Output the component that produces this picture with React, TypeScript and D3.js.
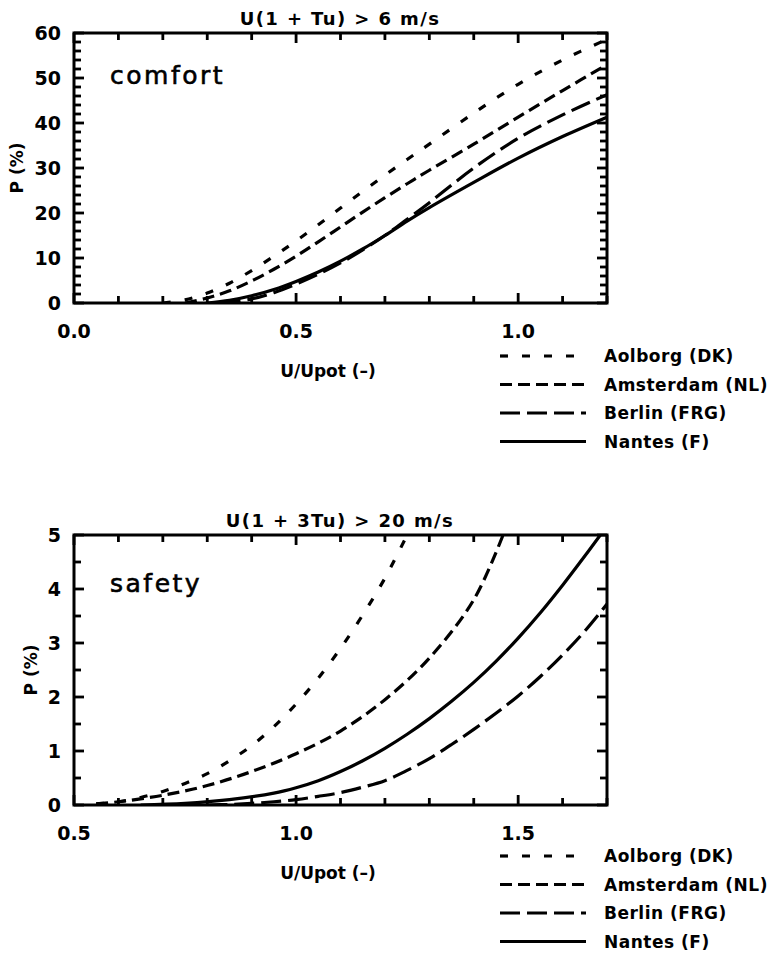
import React from "react";
import * as d3 from "d3";

const seriesNames = ["Aolborg (DK)", "Amsterdam (NL)", "Berlin (FRG)", "Nantes (F)"];
const seriesDash = ["8,14", "12,6", "20,7", "none"];

// comfort panel: U(1 + Tu) > 6 m/s
const comfortAolborg: [number, number][] = [[0.20,0],[0.25,0.7],[0.30,2.2],[0.35,4.4],[0.40,7.2],[0.45,10.4],[0.50,13.8],[0.55,17.4],[0.60,21.1],[0.65,24.8],[0.70,28.4],[0.75,31.9],[0.80,35.3],[0.90,42.2],[1.00,48.6],[1.10,54],[1.20,58.6]];
const comfortAmsterdam: [number, number][] = [[0.25,0],[0.30,1.1],[0.35,2.7],[0.40,4.9],[0.45,7.5],[0.50,10.4],[0.55,13.6],[0.60,16.9],[0.65,20.2],[0.70,23.4],[0.75,26.5],[0.80,29.5],[0.90,35.3],[1.00,41.3],[1.10,47.2],[1.20,53]];
const comfortBerlin: [number, number][] = [[0.33,0],[0.40,0.9],[0.45,2.3],[0.50,4.2],[0.55,6.4],[0.60,8.9],[0.65,11.8],[0.70,15],[0.75,18.6],[0.80,22.3],[0.90,30.0],[1.00,36.6],[1.10,41.8],[1.20,46.3]];
const comfortNantes: [number, number][] = [[0.30,0],[0.35,0.6],[0.40,1.6],[0.45,3.0],[0.50,4.8],[0.55,6.9],[0.60,9.3],[0.65,12],[0.70,15],[0.75,18.2],[0.80,21.2],[0.90,26.8],[1.00,32.2],[1.10,37],[1.20,41.3]];

// safety panel: U(1 + 3Tu) > 20 m/s
const safetyAolborg: [number, number][] = [[0.55,0.02],[0.60,0.06],[0.65,0.14],[0.70,0.25],[0.75,0.4],[0.80,0.58],[0.85,0.82],[0.90,1.1],[0.95,1.45],[1.00,1.87],[1.05,2.35],[1.10,2.9],[1.15,3.52],[1.20,4.2],[1.25,5.0]];
const safetyAmsterdam: [number, number][] = [[0.55,0.02],[0.60,0.06],[0.70,0.18],[0.80,0.36],[0.90,0.62],[1.00,0.95],[1.10,1.37],[1.20,1.95],[1.30,2.72],[1.40,3.8],[1.466,5.0]];
const safetyBerlin: [number, number][] = [[0.80,0],[0.85,0.01],[0.90,0.03],[0.95,0.06],[1.00,0.1],[1.05,0.16],[1.10,0.23],[1.15,0.33],[1.20,0.45],[1.25,0.64],[1.30,0.86],[1.35,1.12],[1.40,1.4],[1.45,1.7],[1.50,2.02],[1.55,2.38],[1.60,2.78],[1.65,3.22],[1.70,3.72]];
const safetyNantes: [number, number][] = [[0.65,0],[0.75,0.03],[0.85,0.1],[0.95,0.22],[1.00,0.32],[1.05,0.45],[1.10,0.62],[1.15,0.82],[1.20,1.05],[1.25,1.31],[1.30,1.6],[1.35,1.92],[1.40,2.27],[1.45,2.66],[1.50,3.09],[1.55,3.56],[1.60,4.07],[1.65,4.61],[1.685,5.0]];

const comfortXTicks = [0, 0.5, 1.0];
const comfortYTicks = [0, 10, 20, 30, 40, 50, 60];
const safetyXTicks = [0.5, 1.0, 1.5];
const safetyYTicks = [0, 1, 2, 3, 4, 5];

const FONT = "'DejaVu Sans', sans-serif";

type PanelProps = {
  id: string;
  top: number;
  title: string;
  label: string;
  xDomain: [number, number];
  yDomain: [number, number];
  xTicks: number[];
  yTicks: number[];
  xMinorCount: number;
  yMinorCount: number;
  series: [number, number][][];
  labelBaseline: number;
  yLabelX: number;
  legendTop: number;
};

function Panel(p: PanelProps) {
  const left = 74, right = 607, top = p.top, bottom = p.top + 270;
  const x = d3.scaleLinear().domain(p.xDomain).range([left, right]);
  const y = d3.scaleLinear().domain(p.yDomain).range([bottom, top]);
  const line = d3.line<[number, number]>().x(d => x(d[0])).y(d => y(d[1])).curve(d3.curveCatmullRom.alpha(0.5));
  const xMinor = x.ticks(p.xMinorCount);
  const yMinor = y.ticks(p.yMinorCount);
  const isMajorX = (v: number) => p.xTicks.some(t => Math.abs(t - v) < 1e-6);
  const isMajorY = (v: number) => p.yTicks.some(t => Math.abs(t - v) < 1e-6);
  const legendRows = [0, 28.5, 57, 85.5];
  return (
    <g>
      <defs>
        <clipPath id={p.id}>
          <rect x={left} y={top} width={right - left} height={bottom - top} />
        </clipPath>
      </defs>
      <text x={340} y={top - 8} textAnchor="middle" fontFamily={FONT} fontWeight="bold" fontSize={18} letterSpacing={1.4}>{p.title}</text>
      <rect x={left} y={top} width={right - left} height={bottom - top} fill="none" stroke="#000" strokeWidth={3} />
      <g className="ticks">
        {xMinor.map((v, i) => {
          const len = isMajorX(v) ? 10 : 7;
          return (
            <React.Fragment key={"xt" + i}>
              <rect x={x(v) - 1.4} y={bottom - len} width={2.8} height={len} fill="#000" />
              <rect x={x(v) - 1.4} y={top} width={2.8} height={len} fill="#000" />
            </React.Fragment>
          );
        })}
        {yMinor.map((v, i) => {
          const len = isMajorY(v) ? 10 : 7;
          return (
            <React.Fragment key={"yt" + i}>
              <rect x={left} y={y(v) - 1.4} width={len} height={2.8} fill="#000" />
              <rect x={right - len} y={y(v) - 1.4} width={len} height={2.8} fill="#000" />
            </React.Fragment>
          );
        })}
      </g>
      {p.xTicks.map((v, i) => (
        <text key={"xl" + i} x={x(v)} y={bottom + 35} textAnchor="middle" fontFamily={FONT} fontWeight="bold" fontSize={19}>{v.toFixed(1)}</text>
      ))}
      {p.yTicks.map((v, i) => (
        <text key={"yl" + i} x={61} y={y(v)} dy="0.36em" textAnchor="end" fontFamily={FONT} fontWeight="bold" fontSize={19}>{v}</text>
      ))}
      <g transform={`translate(${p.yLabelX},${(top + bottom) / 2}) rotate(-90)`}>
        <text x={0} y={0} textAnchor="middle" dy="0.36em" fontFamily={FONT} fontWeight="bold" fontSize={17}>P (%)</text>
      </g>
      <text x={110} y={p.labelBaseline} fontFamily={FONT} fontSize={25} letterSpacing={2.5} stroke="#000" strokeWidth={0.6}>{p.label}</text>
      <g clipPath={`url(#${p.id})`}>
        {p.series.map((s, i) => (
          <path key={"s" + i} d={line(s) || ""} fill="none" stroke="#000" strokeWidth={3.2} strokeDasharray={seriesDash[i]} />
        ))}
      </g>
      <text x={328} y={bottom + 68} dy="0.36em" textAnchor="middle" fontFamily={FONT} fontWeight="bold" fontSize={17}>U/Upot (–)</text>
      {seriesNames.map((n, i) => (
        <g key={"lg" + i}>
          <line x1={500} x2={586} y1={p.legendTop + legendRows[i]} y2={p.legendTop + legendRows[i]} stroke="#000" strokeWidth={3.2} strokeDasharray={seriesDash[i]} />
          <text x={604} y={p.legendTop + legendRows[i]} dy="0.36em" fontFamily={FONT} fontWeight="bold" fontSize={17} letterSpacing={0.5}>{n}</text>
        </g>
      ))}
    </g>
  );
}

export default function App() {
  return (
    <svg width={777} height={956} style={{ position: "absolute", left: 0, top: 0, background: "#fff" }}>
      <rect x={0} y={0} width={777} height={956} fill="#fff" />
      <Panel
        id="clipComfort"
        top={33}
        title="U(1 + Tu) > 6 m/s"
        label="comfort"
        xDomain={[0, 1.2]}
        yDomain={[0, 60]}
        xTicks={comfortXTicks}
        yTicks={comfortYTicks}
        xMinorCount={12}
        yMinorCount={30}
        series={[comfortAolborg, comfortAmsterdam, comfortBerlin, comfortNantes]}
        labelBaseline={84}
        yLabelX={17}
        legendTop={356}
      />
      <Panel
        id="clipSafety"
        top={535}
        title="U(1 + 3Tu) > 20 m/s"
        label="safety"
        xDomain={[0.5, 1.7]}
        yDomain={[0, 5]}
        xTicks={safetyXTicks}
        yTicks={safetyYTicks}
        xMinorCount={12}
        yMinorCount={10}
        series={[safetyAolborg, safetyAmsterdam, safetyBerlin, safetyNantes]}
        labelBaseline={592}
        yLabelX={31}
        legendTop={856}
      />
    </svg>
  );
}
